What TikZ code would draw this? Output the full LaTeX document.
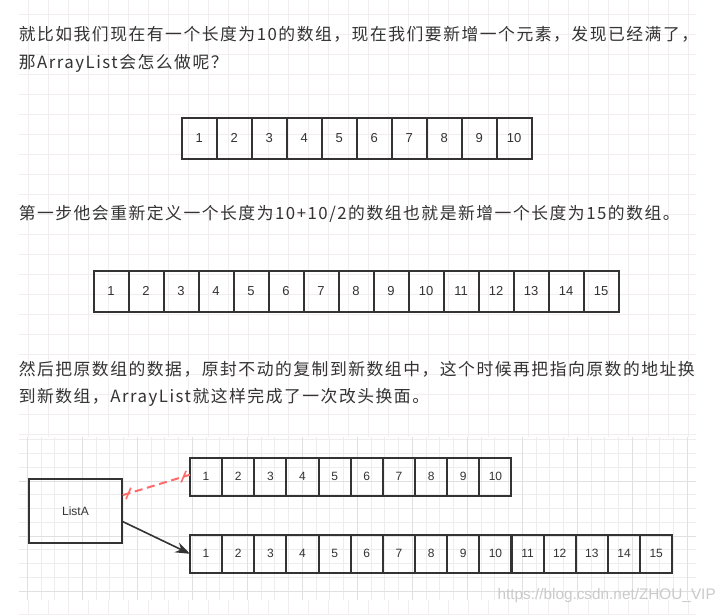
\documentclass[tikz,border=0pt]{standalone}
\usepackage{fontspec}
\setmainfont{Liberation Sans}
\newfontfamily\cjkfont[LetterSpace=9]{Noto Sans CJK SC}
\usetikzlibrary{arrows.meta,positioning,calc,decorations.markings}

\definecolor{inkgray}{HTML}{333333}
\definecolor{pagegrid}{HTML}{F2EEEE}
\definecolor{minorgrid}{HTML}{EDEDED}
\definecolor{majorgrid}{HTML}{E0E0E0}
\definecolor{linkred}{HTML}{FF6B6B}
\definecolor{markgray}{HTML}{CACACA}

\tikzset{
  para/.style={anchor=west,inner sep=0pt,text=inkgray,font=\cjkfont\fontsize{12.6pt}{14pt}\selectfont},
  cellA/.style={draw=inkgray,line width=1.5pt,minimum width=26.25pt,minimum height=31pt,
    inner sep=0pt,outer sep=0pt,text=inkgray,font=\fontsize{9.75pt}{11pt}\selectfont},
  cellB/.style={cellA,minimum width=24.1pt,minimum height=28.5pt,font=\fontsize{9pt}{10pt}\selectfont},
  listbox/.style={draw=inkgray,line width=1.5pt,minimum width=69.3pt,minimum height=48pt,
    inner sep=0pt,text=inkgray,font=\fontsize{9pt}{10pt}\selectfont},
  tick/.style={solid,linkred,line width=1.2pt}
}

\begin{document}
\begin{tikzpicture}[x=0.75pt,y=-0.75pt]
  \useasboundingbox[fill=white] (0,0) rectangle (726,615);

  % page grid
  \foreach \k in {0,...,33}
    \draw[pagegrid,line width=0.6pt] ({28.3+20*\k},0) -- ({28.3+20*\k},615);
  \foreach \k in {0,...,30}
    \draw[pagegrid,line width=0.6pt] (19.3,{14.3+20*\k}) -- (696,{14.3+20*\k});

  % text
  \node[para] (line1) at (18.5,34.5) {就比如我们现在有一个长度为10的数组，现在我们要新增一个元素，发现已经满了，};
  \node[para] (line2) at (18.5,63.5) {那ArrayList会怎么做呢？};
  \node[para] (line3) at (18.5,213.5) {第一步他会重新定义一个长度为10+10/2的数组也就是新增一个长度为15的数组。};
  \node[para] (line4) at (18.5,369.5) {然后把原数组的数据，原封不动的复制到新数组中，这个时候再把指向原数的地址换};
  \node[para] (line5) at (18.5,397.5) {到新数组，ArrayList就这样完成了一次改头换面。};

  % old array
  \foreach \i in {1,...,10}
    \node[cellA] (a\i) at ({181.7+35*(\i-0.5)},138.2) {\i};

  % new array
  \foreach \i in {1,...,15}
    \node[cellA] (n\i) at ({93.6+35*(\i-0.5)},291.2) {\i};

  % draw.io canvas
  \fill[white] (19.3,437) rectangle (696,600);
  \foreach \k in {0,...,48}
    \draw[minorgrid,line width=0.6pt] ({27.3+13.75*\k},437) -- ({27.3+13.75*\k},600);
  \foreach \k in {0,...,11}
    \draw[minorgrid,line width=0.6pt] (19.3,{439.75+13.75*\k}) -- (696,{439.75+13.75*\k});
  \foreach \k in {0,...,12}
    \draw[majorgrid,line width=0.7pt] ({27.3+55*\k},437) -- ({27.3+55*\k},600);
  \foreach \k in {0,1,2}
    \draw[majorgrid,line width=0.7pt] (19.3,{481+55*\k}) -- (696,{481+55*\k});

  \node[listbox] (listA) at (75.5,511) {ListA};
  \foreach \i in {1,...,10}
    \node[cellB] (b\i) at ({190+32.15*(\i-0.5)},476.7) {\i};
  \foreach \i in {1,...,15}
    \node[cellB] (c\i) at ({190+32.15*(\i-0.5)},553.8) {\i};

  % old reference, cut
  \draw[linkred,line width=1.5pt,dash pattern=on 6pt off 3.5pt,
    postaction={decorate},
    decoration={markings,
      mark=at position 4.5pt with {\draw[tick] (-3pt,-3.6pt) -- (3pt,3.6pt);},
      mark=at position -5pt with {\draw[tick] (-3pt,-3.6pt) -- (3pt,3.6pt);}}]
    ($(listA.north east)!0.26!(listA.south east)$) -- ($(b1.west)+(0,-2)$);
  % new reference
  \draw[-{Stealth[length=11pt,width=8pt]},inkgray,line width=1.2pt]
    ($(listA.north east)!0.66!(listA.south east)$) -- (c1.west);

  \node[anchor=east,inner sep=0pt,text=markgray,font=\fontsize{11.5pt}{12pt}\selectfont] (watermark) at (716,596) {https://blog.csdn.net/ZHOU\_VIP};
\end{tikzpicture}
\end{document}
